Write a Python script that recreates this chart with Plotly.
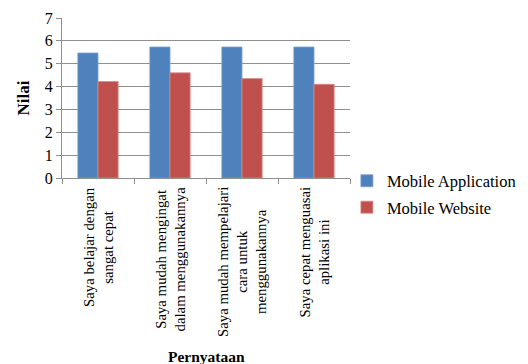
import plotly.graph_objects as go

# Statements (categories) and mean scores per platform
categories = [
    "Saya belajar dengan<br>sangat cepat",
    "Saya mudah mengingat<br>dalam menggunakannya",
    "Saya mudah mempelajari<br>cara untuk<br>menggunakannya",
    "Saya cepat menguasai<br>aplikasi ini",
]
mobile_app = [5.47, 5.73, 5.73, 5.73]
mobile_web = [4.22, 4.60, 4.35, 4.10]
y_ticks = [0, 1, 2, 3, 4, 5, 6, 7]

SERIF = "Liberation Serif, Times New Roman, serif"
GRID = "#8f8f8f"

fig = go.Figure()
fig.add_trace(go.Bar(
    x=categories, y=mobile_app, name="Mobile Application", legendgroup="app",
    marker=dict(color="#4F81BD", line=dict(color="#7aa0d0", width=0.8)),
))
fig.add_trace(go.Bar(
    x=categories, y=mobile_web, name="Mobile Website", legendgroup="web",
    marker=dict(color="#C0504D", line=dict(color="#d88a88", width=0.8)),
))

# Rotated, centre-aligned category labels below the axis
for cat in categories:
    fig.add_annotation(
        x=cat, xref="x", y=0, yref="paper", yanchor="top", xanchor="center",
        yshift=-7, text=cat, textangle=-90, align="center", showarrow=False,
        font=dict(family=SERIF, size=14.8, color="#000000"),
    )

# X axis title
fig.add_annotation(
    x=0.5, xref="paper", y=-1.05, yref="paper", yanchor="top",
    text="<b>Pernyataan</b>", showarrow=False,
    font=dict(family=SERIF, size=15.5, color="#000000"),
)

fig.update_layout(
    width=528, height=364,
    margin=dict(l=62, r=178, t=18, b=186, autoexpand=False),
    paper_bgcolor="white", plot_bgcolor="white",
    barmode="group", bargap=0.44, bargroupgap=0,
    font=dict(family=SERIF, size=15, color="#000000"),
    showlegend=True,
    legend=dict(
        x=0.657, xref="container", xanchor="left",
        y=0.467, yref="container", yanchor="middle",
        font=dict(family=SERIF, size=16.5, color="#000000"),
        bgcolor="rgba(0,0,0,0)", itemwidth=30, traceorder="grouped",
        tracegroupgap=2,
    ),
    xaxis=dict(
        showticklabels=False, ticks="outside", ticklen=5, tickcolor=GRID,
        tickson="boundaries", showline=True, linecolor=GRID, linewidth=1,
        showgrid=False, zeroline=False,
    ),
    yaxis=dict(
        range=[0, 7], tickvals=y_ticks, ticks="outside", ticklen=5,
        tickcolor=GRID, showline=True, linecolor=GRID, linewidth=1,
        showgrid=True, gridcolor=GRID, gridwidth=1, zeroline=False,
        tickfont=dict(family=SERIF, size=16),
        title=dict(text="<b>Nilai</b>", font=dict(family=SERIF, size=17), standoff=10),
    ),
)

fig.write_html("out.html")
